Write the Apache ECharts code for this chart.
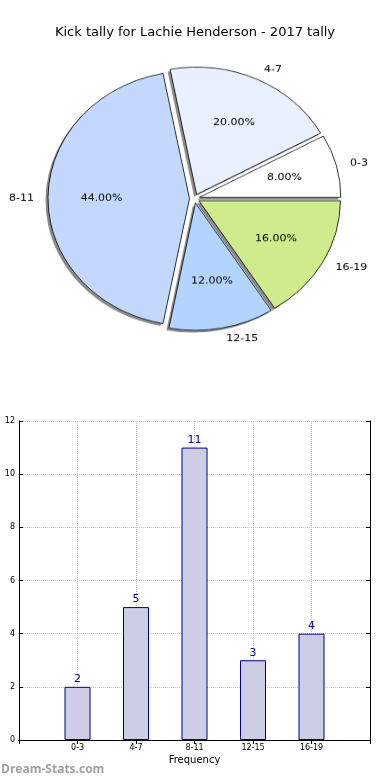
<!DOCTYPE html>
<html><head><meta charset="utf-8">
<script src="https://cdn.jsdelivr.net/npm/echarts@6/dist/echarts.min.js"></script>
<style>
html,body{margin:0;padding:0;background:#fff;}
#wrap{position:relative;width:390px;height:780px;}
#main{position:absolute;left:0;top:0;width:390px;height:780px;}
#pie{position:absolute;left:0;top:0;width:390px;height:400px;transform:scaleY(0.9);transform-origin:194.5px 198.5px;pointer-events:none;}
</style></head>
<body><div id="wrap"><div id="main"></div><div id="pie"></div></div>
<script>
const titleText = 'Kick tally for Lachie Henderson - 2017 tally';
const categories = ['0-3', '4-7', '8-11', '12-15', '16-19'];
const values = [2, 5, 11, 3, 4];
const sliceColors = ['#ffffff', '#eaf1fe', '#c4d8fe', '#b3d4fe', '#cfeb8c'];
const yTicks = { min: 0, max: 12, interval: 2 };
const xAxisName = 'Frequency';
const yAxisName = 'Stat Interval';
const watermark = 'Dream-Stats.com';

const FONT = 'DejaVu Sans';

// ---------- Pie ----------
const pieData = categories.map((c, i) => ({
  name: c, value: values[i], selected: true,
  itemStyle: { color: sliceColors[i] }
}));
const plainData = categories.map((c, i) => ({
  name: c, value: values[i], selected: true
}));
const pieCenter = [194.5, 198.5];
const shadowCenter = [pieCenter[0] - 2.5, pieCenter[1] + 2.5];
const pieR = 141.5;
const common = {
  type: 'pie', silent: true, startAngle: 0, clockwise: false,
  selectedMode: 'multiple', selectedOffset: 5, avoidLabelOverlap: false,
  emphasis: { disabled: true }
};
const pie = echarts.init(document.getElementById('pie'), null, { renderer: 'canvas' });
pie.setOption({
  animation: false,
  series: [
    Object.assign({}, common, {
      center: shadowCenter, radius: [0, pieR],
      data: plainData,
      itemStyle: { color: 'rgba(0,0,0,0.45)', borderWidth: 0 },
      select: { itemStyle: { color: 'rgba(0,0,0,0.45)', borderWidth: 0 } },
      label: { show: false }, labelLine: { show: false },
      z: 1
    }),
    Object.assign({}, common, {
      center: pieCenter, radius: [0, pieR],
      data: pieData,
      itemStyle: { borderColor: '#000', borderWidth: 0.8 },
      select: { itemStyle: { borderColor: '#000', borderWidth: 0.8 } },
      label: {
        show: true, position: 'outside', color: '#000',
        fontFamily: FONT, fontSize: 11, distanceToLabelLine: 2,
        formatter: p => p.name
      },
      labelLine: { show: false, length: 12, length2: 0 },
      z: 2
    }),
    Object.assign({}, common, {
      center: pieCenter, radius: [0, pieR * 1.2],
      data: plainData,
      itemStyle: { color: 'rgba(0,0,0,0)', borderWidth: 0 },
      select: { itemStyle: { color: 'rgba(0,0,0,0)', borderWidth: 0 } },
      label: {
        show: true, position: 'inside', color: '#000',
        fontFamily: FONT, fontSize: 11,
        formatter: p => p.percent.toFixed(2) + '%'
      },
      labelLine: { show: false },
      z: 3
    })
  ]
});

// ---------- Bar ----------
const xCats = [''].concat(categories, ['']);
const barData = [null].concat(values, [null]);
const axisLineStyle = { show: true, lineStyle: { color: '#000', width: 1 } };
const main = echarts.init(document.getElementById('main'), null, { renderer: 'canvas' });
main.setOption({
  animation: false,
  title: [
    { text: titleText, left: 'center', top: 21,
      textStyle: { fontFamily: FONT, fontSize: 13, fontWeight: 'normal', color: '#000' } },
    { text: watermark, left: -4, top: 759,
      textStyle: { fontFamily: 'Open Sans', fontSize: 12, fontWeight: 'bold', color: '#a0a0a0' } }
  ],
  grid: { left: 19, top: 421, width: 351, height: 319, containLabel: false, outerBoundsMode: 'none' },
  xAxis: [
    {
      type: 'category', data: xCats, boundaryGap: false, position: 'bottom',
      name: xAxisName, nameLocation: 'middle', nameGap: 15, nameMoveOverlap: false,
      nameTextStyle: { fontFamily: FONT, fontSize: 10, color: '#000' },
      axisLine: axisLineStyle,
      axisTick: { show: true, inside: true, length: 4, interval: 0, lineStyle: { color: '#000' } },
      axisLabel: { interval: 0, fontFamily: FONT, fontSize: 8, color: '#000', margin: 4 },
      splitLine: { show: true, interval: 0, lineStyle: { color: '#c4c4c4', type: 'dotted', width: 1 } }
    },
    {
      type: 'category', data: xCats, boundaryGap: false, position: 'top',
      axisLine: axisLineStyle,
      axisTick: { show: true, inside: true, length: 4, interval: 0, lineStyle: { color: '#000' } },
      axisLabel: { show: false }, splitLine: { show: false }
    }
  ],
  yAxis: [
    {
      type: 'value', min: yTicks.min, max: yTicks.max, interval: yTicks.interval, position: 'left',
      name: yAxisName, nameLocation: 'middle', nameGap: 17, nameMoveOverlap: false,
      nameTextStyle: { fontFamily: FONT, fontSize: 10, color: '#000' },
      axisLine: axisLineStyle,
      axisTick: { show: true, inside: true, length: 4, lineStyle: { color: '#000' } },
      axisLabel: { fontFamily: FONT, fontSize: 8, color: '#000', margin: 4 },
      splitLine: { show: true, lineStyle: { color: '#c4c4c4', type: 'dotted', width: 1 } }
    },
    {
      type: 'value', min: yTicks.min, max: yTicks.max, interval: yTicks.interval, position: 'right',
      axisLine: axisLineStyle,
      axisTick: { show: true, inside: true, length: 4, lineStyle: { color: '#000' } },
      axisLabel: { show: false }, splitLine: { show: false }
    }
  ],
  series: [{
    type: 'bar', data: barData, barWidth: 26, xAxisIndex: 0, yAxisIndex: 0,
    itemStyle: { color: '#cdcde6', borderColor: '#000080', borderWidth: 1 },
    label: { show: true, position: 'top', distance: 2, color: '#00008b', fontFamily: FONT, fontSize: 11 },
    silent: true
  }]
});
</script></body></html>
